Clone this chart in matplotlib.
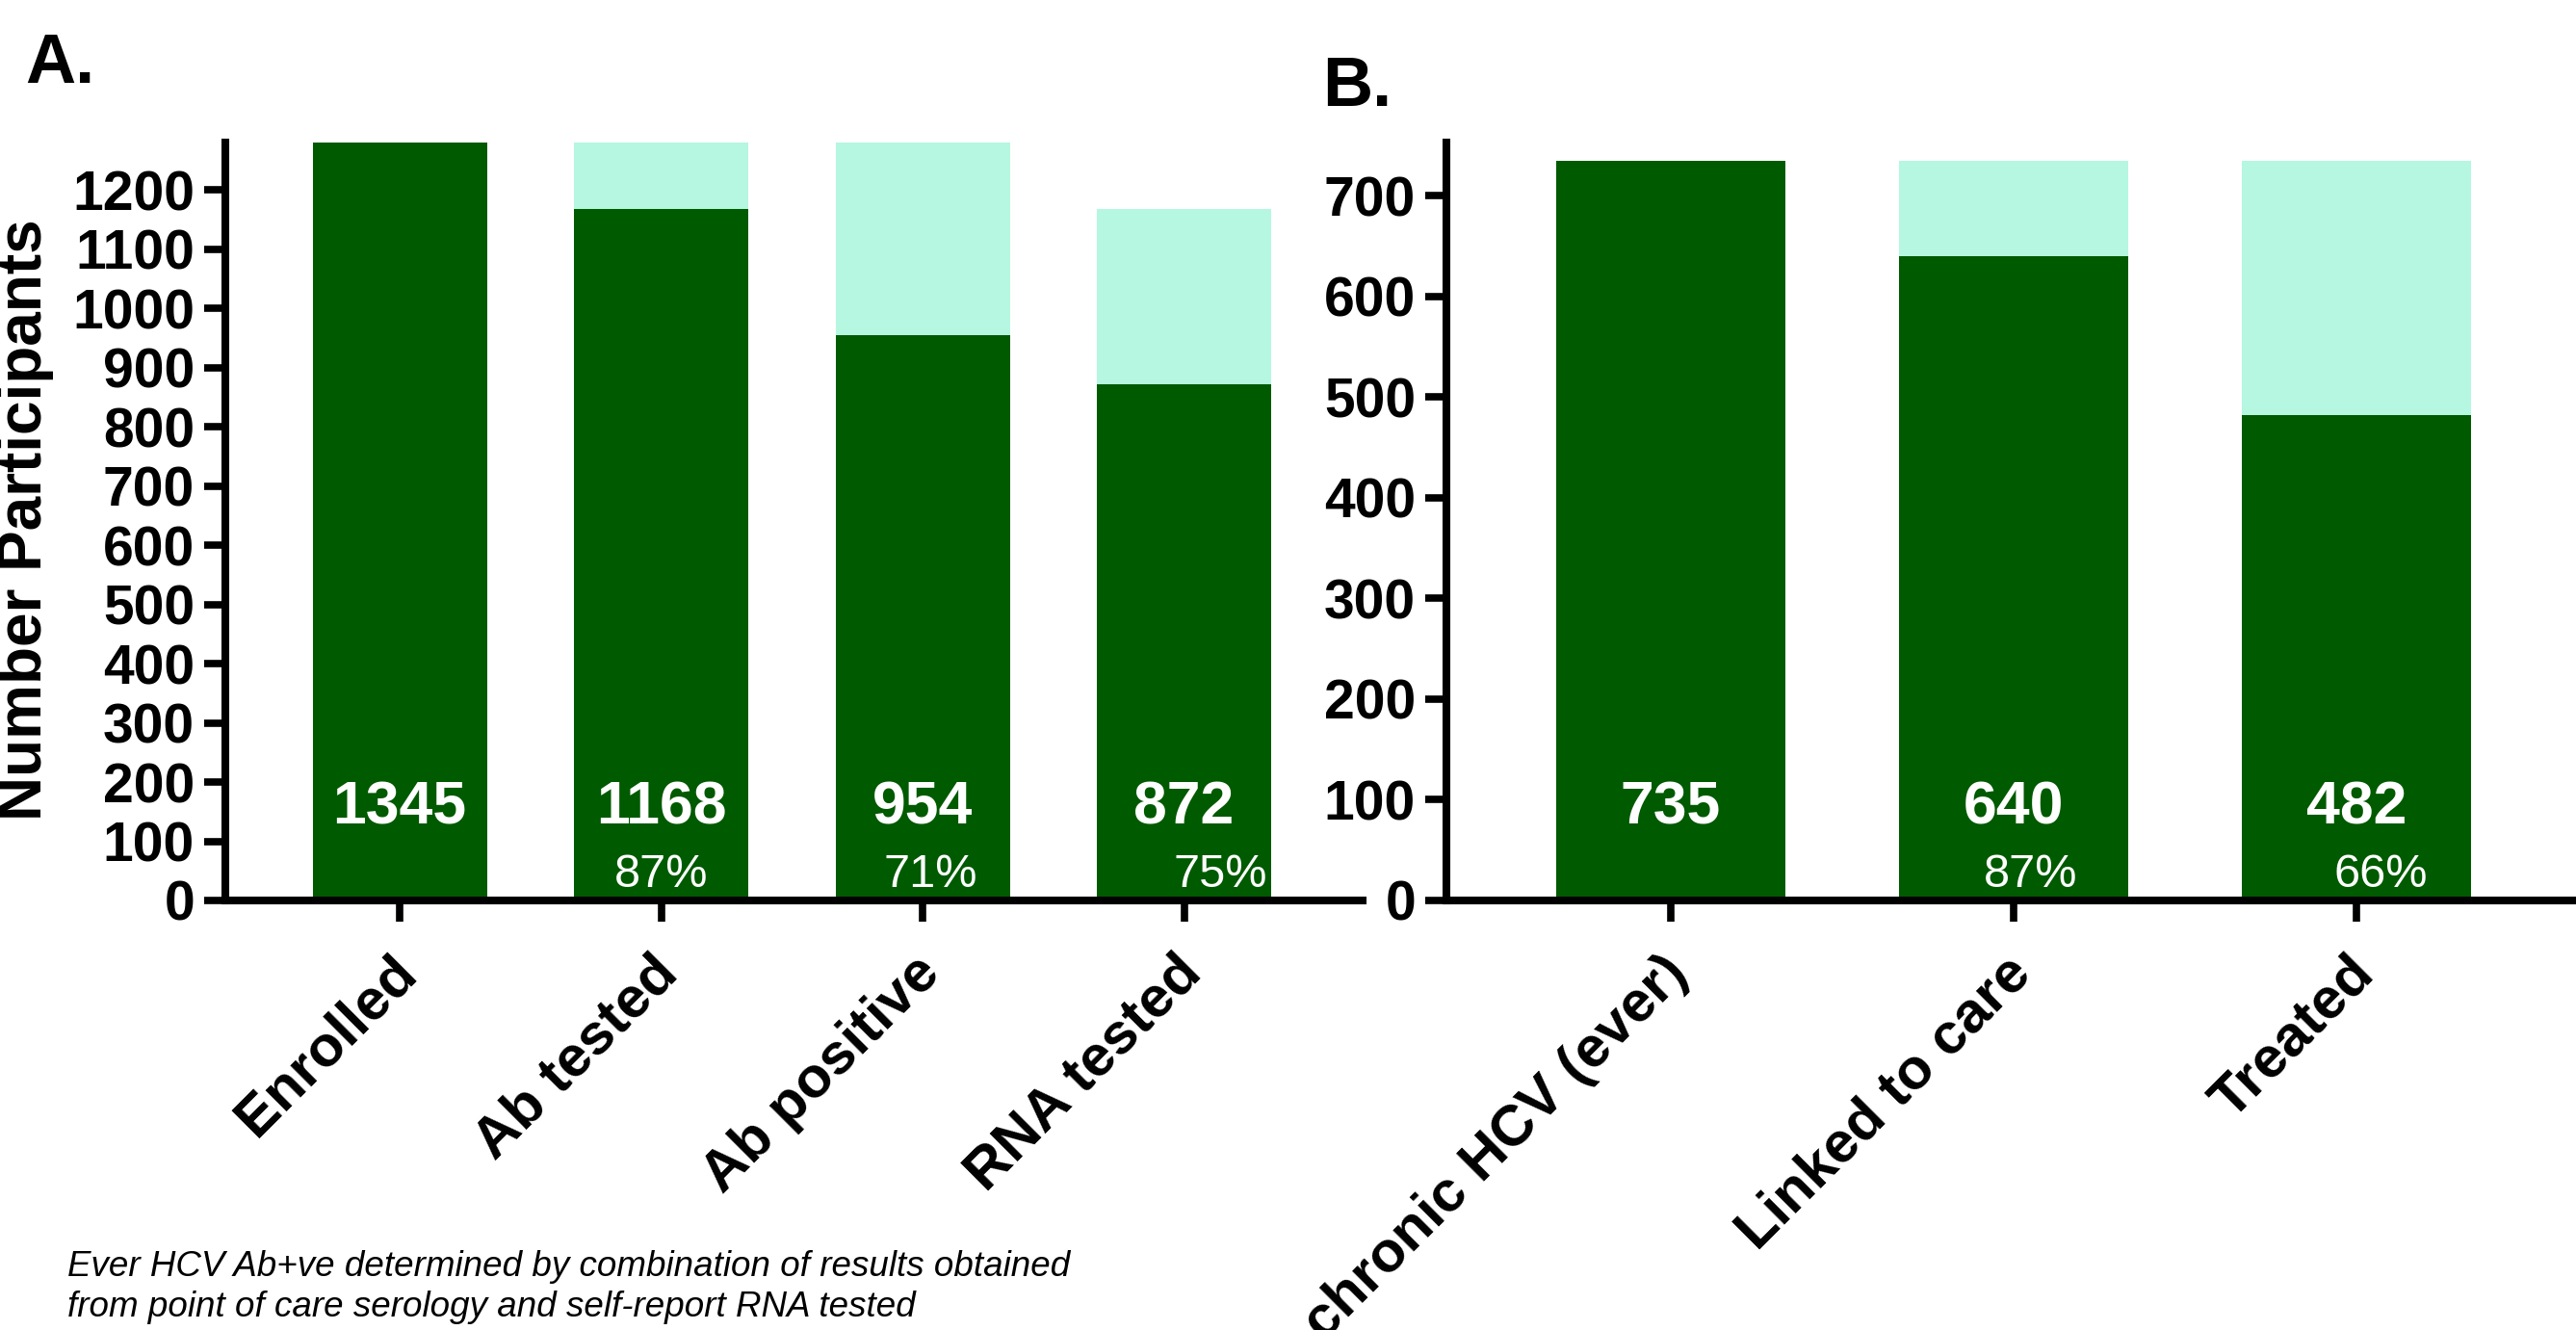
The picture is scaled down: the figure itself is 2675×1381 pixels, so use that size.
import matplotlib
matplotlib.use("Agg")
import matplotlib.pyplot as plt
import matplotlib.transforms as mtransforms

plt.rcParams['font.family'] = ['Liberation Sans', 'DejaVu Sans']

# ---- data ----
cats_a = ["Enrolled", "Ab tested", "Ab positive", "RNA tested"]
dark_a = [1345, 1168, 954, 872]
ref_a = [1345, 1345, 1345, 1168]
pct_a = ["", "87%", "71%", "75%"]

cats_b = ["chronic HCV (ever)", "Linked to care", "Treated"]
dark_b = [735, 640, 482]
ref_b = [735, 735, 735]
pct_b = ["", "87%", "66%"]

yticks_a = list(range(0, 1201, 100))
yticks_b = list(range(0, 701, 100))

footnote = ["Ever HCV Ab+ve determined by combination of results obtained",
            "from point of care serology and self-report RNA tested"]

DARK = "#005a00"
LIGHT = "#b5f7e0"

W, H = 2675, 1381
fig = plt.figure(figsize=(W / 100, H / 100), dpi=100)

axA = fig.add_axes([234 / W, 1 - 935 / H, (1415 - 234) / W, (935 - 148) / H])
axB = fig.add_axes([1502 / W, 1 - 935 / H, (2675 - 1502) / W, (935 - 148) / H])


def draw(ax, cats, dark, ref, pct, yticks, ylim, xlim, pct_dx):
    x = list(range(len(cats)))
    ax.bar(x, ref, width=0.667, color=LIGHT, zorder=1)
    ax.bar(x, dark, width=0.667, color=DARK, zorder=2)
    ax.set_ylim(0, ylim)
    ax.set_xlim(*xlim)
    ax.set_yticks(yticks)
    ax.set_yticklabels([str(t) for t in yticks], fontsize=41, fontweight='bold')
    ax.set_xticks(x)
    ax.set_xticklabels([])
    ax.tick_params(axis='y', length=16, width=5.5, pad=7)
    ax.tick_params(axis='x', length=16, width=5.5)
    for s in ['top', 'right']:
        ax.spines[s].set_visible(False)
    for s in ['left', 'bottom']:
        ax.spines[s].set_linewidth(5.8)
    trans = mtransforms.blended_transform_factory(ax.transData, ax.transAxes)
    # category labels: baseline end right of tick, below axis
    lab_trans = trans + mtransforms.ScaledTranslation(20 / 100, -78 / 100,
                                                      fig.dpi_scale_trans)
    for i, c in enumerate(cats):
        ax.text(i, 0, c, transform=lab_trans, rotation=45, ha='right',
                va='baseline', rotation_mode='anchor', fontsize=43,
                fontweight='bold', clip_on=False)
    for i, v in enumerate(dark):
        ax.text(i, 0.122, str(v), transform=trans, ha='center', va='center',
                color='white', fontsize=45, fontweight='bold', zorder=3)
        if pct[i]:
            ax.text(i + pct_dx[i], 0.034, pct[i], transform=trans, ha='center',
                    va='center', color='white', fontsize=35, zorder=3)


draw(axA, cats_a, dark_a, ref_a, pct_a, yticks_a, 1280, (-0.667, 3.683),
     [0, 0.0, 0.03, 0.14])
draw(axB, cats_b, dark_b, ref_b, pct_b, yticks_b, 753, (-0.654, 2.64),
     [0, 0.05, 0.07])

fig.text(26 / W, 1 - 540 / H, "Number Participants", rotation=90, ha='center',
         va='center', fontsize=46, fontweight='bold')

fig.text(26 / W, 1 - 86 / H, "A.", ha='left', va='baseline', fontsize=52,
         fontweight='bold')
fig.text(1373 / W, 1 - 110 / H, "B.", ha='left', va='baseline', fontsize=52,
         fontweight='bold')

fig.text(70 / W, 1 - 1325 / H, footnote[0], ha='left', va='baseline',
         fontsize=26.5, fontstyle='italic')
fig.text(70 / W, 1 - 1367 / H, footnote[1], ha='left', va='baseline',
         fontsize=26.5, fontstyle='italic')

fig.savefig("out.png", dpi=100)
